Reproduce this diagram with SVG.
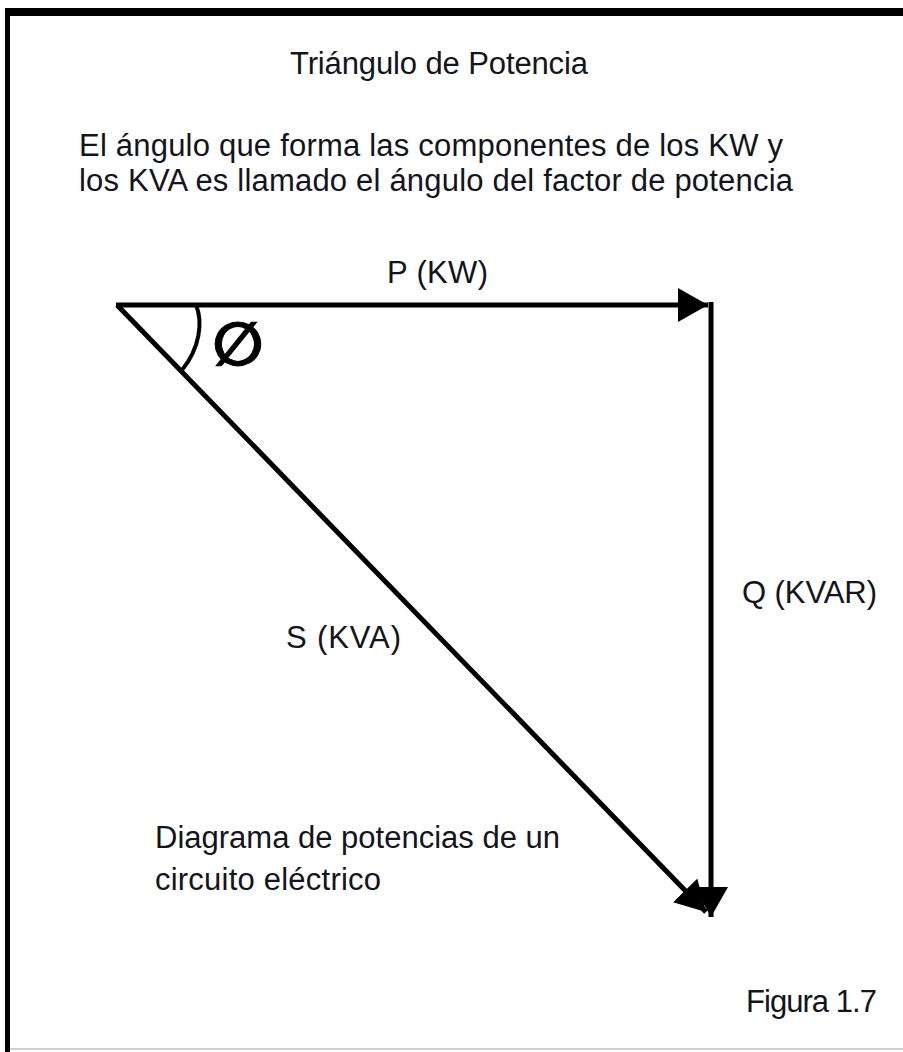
<svg xmlns="http://www.w3.org/2000/svg" width="903" height="1052" viewBox="0 0 903 1052">
  <style>
    .t { font-family: "Liberation Sans", Arial, sans-serif; font-size: 31px; fill: #141420; }
    .edge { stroke: #000; stroke-width: 5; fill: none; }
  </style>
  <defs>
    <marker id="arrow" markerUnits="userSpaceOnUse" markerWidth="30" markerHeight="34" refX="30" refY="17" orient="auto" viewBox="0 0 30 34">
      <path d="M0,0 L30,17 L0,34 Z" fill="#000"/>
    </marker>
  </defs>
  <rect width="903" height="1052" fill="#fff"/>
  <g id="frame">
    <rect x="5" y="8" width="898" height="8" fill="#000"/>
    <rect x="5" y="8" width="5" height="1044" fill="#000"/>
    <rect x="10" y="1048" width="893" height="2" fill="#d0d0d0"/>
  </g>
  <g id="title">
    <text class="t" x="290" y="74" textLength="298">Triángulo de Potencia</text>
  </g>
  <g id="description">
    <text class="t" x="79" y="156" textLength="704">El ángulo que forma las componentes de los KW y</text>
    <text class="t" x="79" y="191" textLength="714">los KVA es llamado el ángulo del factor de potencia</text>
  </g>
  <g id="connectors">
    <line id="edge-P" class="edge" x1="116" y1="305" x2="708" y2="305" marker-end="url(#arrow)"/>
    <line id="edge-Q" class="edge" x1="711" y1="302" x2="711" y2="917" marker-end="url(#arrow)"/>
    <line id="edge-S" class="edge" x1="117" y1="305" x2="706" y2="912" marker-end="url(#arrow)"/>
    <path id="angle-arc" d="M196,305 C203,322 200,348 182,370" stroke="#000" stroke-width="4" fill="none"/>
  </g>
  <g id="angle-symbol">
    <text x="238" y="365" text-anchor="middle" font-family="DejaVu Sans, sans-serif" font-weight="bold" font-size="60" fill="#000" stroke="#000" stroke-width="1">∅</text>
  </g>
  <g id="label-P">
    <text class="t" x="387" y="283" textLength="101">P (KW)</text>
  </g>
  <g id="label-Q">
    <text class="t" x="742" y="603" textLength="135">Q (KVAR)</text>
  </g>
  <g id="label-S">
    <text class="t" x="286" y="648" textLength="115">S (KVA)</text>
  </g>
  <g id="caption">
    <text class="t" x="155" y="848" textLength="405">Diagrama de potencias de un</text>
    <text class="t" x="155" y="890" textLength="226">circuito eléctrico</text>
  </g>
  <g id="figure-label">
    <text class="t" x="746" y="1012" textLength="131">Figura 1.7</text>
  </g>
</svg>
